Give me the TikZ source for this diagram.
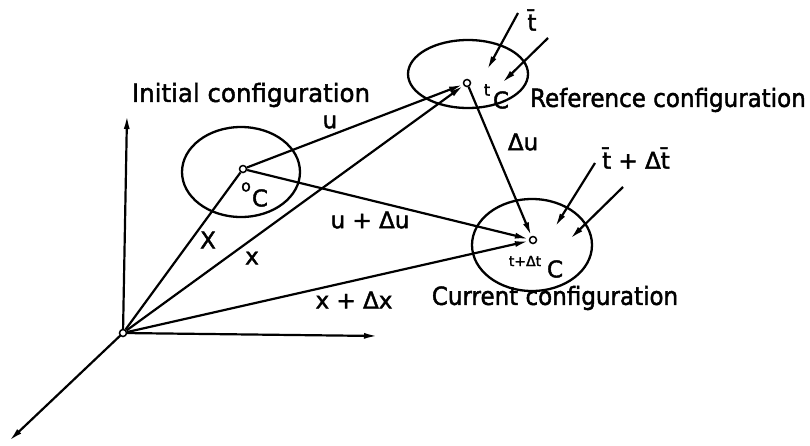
\documentclass[tikz,border=0pt]{standalone}
\usepackage{fontspec}
\setmainfont{DejaVu Sans}
\newfontfamily\lf[FakeBold=1.8]{DejaVu Sans}
\usetikzlibrary{arrows.meta,shapes.geometric}
\newcommand\sxb[2]{\scalebox{#1}[1]{#2}}
\begin{document}
\begin{tikzpicture}[x=1pt,y=-1pt,
  vec/.style={line width=2.2pt,-{Latex[length=14pt,width=6pt]}},
  ln/.style={line width=2.2pt},
  body/.style={ellipse,draw,line width=2.3pt,inner sep=0pt},
  pt/.style={circle,draw,line width=1.5pt,fill=white,inner sep=0pt,minimum size=7pt},
  big/.style={font=\lf\fontsize{25}{25}\selectfont,inner sep=0pt},
  lbl/.style={font=\lf\fontsize{23}{23}\selectfont,inner sep=0pt},
  sup/.style={font=\lf\fontsize{16}{16}\selectfont,inner sep=0pt},
  tiny/.style={font=\lf\fontsize{14}{14}\selectfont,inner sep=0pt}]
\useasboundingbox (0,0) rectangle (810,445);
% bodies
\node[body,minimum width=118pt,minimum height=90pt] (init) at (241,172) {};
\node[body,minimum width=120pt,minimum height=68pt] (ref) at (468,74) {};
\node[body,minimum width=120pt,minimum height=92pt] (cur) at (532,245) {};
% axes
\coordinate (O) at (123,333);
\coordinate (ax1) at (127,115);
\coordinate (ax2) at (378,336);
\coordinate (ax3) at (9,441);
\draw[vec] (O) -- (ax1);
\draw[vec] (O) -- (ax2);
\draw[vec] (O) -- (ax3);
% points
\node[pt] (o) at (O) {};
\node[pt] (p0) at (243,169) {};
\node[pt] (pt) at (467,83) {};
\node[pt] (pc) at (533,240) {};
% vectors
\draw[ln] (o) -- (p0);
\draw[vec] (o) -- (pt);
\draw[vec] (o) -- (pc);
\draw[vec] (p0) -- (pt);
\draw[vec] (p0) -- (pc);
\draw[vec] (pt) -- (pc);
% tractions
\coordinate (f1s) at (518,13);  \coordinate (f1e) at (487,70);
\coordinate (f2s) at (548,38);  \coordinate (f2e) at (502,83);
\coordinate (f3s) at (595,163); \coordinate (f3e) at (555,227);
\coordinate (f4s) at (623,187); \coordinate (f4e) at (570,239);
\draw[vec] (f1s) -- (f1e);
\draw[vec] (f2s) -- (f2e);
\draw[vec] (f3s) -- (f3e);
\draw[vec] (f4s) -- (f4e);
% labels
\node[big] (tinit) at (251,95) {\sxb{0.98}{Initial configuration}};
\node[big,anchor=east] (tref) at (806,100) {\sxb{0.92}{Reference configuration}};
\node[big] (tcur) at (555,298) {\sxb{0.92}{Current configuration}};
\node[lbl] (lu) at (330,122) {u};
\node[lbl] (ldu) at (523,142) {Δu};
\node[lbl] (ludu) at (370,220) {u + Δu};
\node[lbl] (lX) at (208,240) {X};
\node[lbl] (lx) at (252,258) {x};
\node[lbl] (lxdx) at (354,300) {x + Δx};
\node[lbl] (lt) at (532,20) {\=t};
\node[lbl] (ltdt) at (636,158) {\=t + Δ\=t};
\node[sup] (s0) at (246,187) {o};
\node[lbl] (c0) at (260,198) {C};
\node[sup] (st) at (487,90) {t};
\node[lbl] (ct) at (501,100) {C};
\node[tiny] (sc) at (525,261) {t+Δt};
\node[lbl] (cc) at (555,269) {C};
\end{tikzpicture}
\end{document}
